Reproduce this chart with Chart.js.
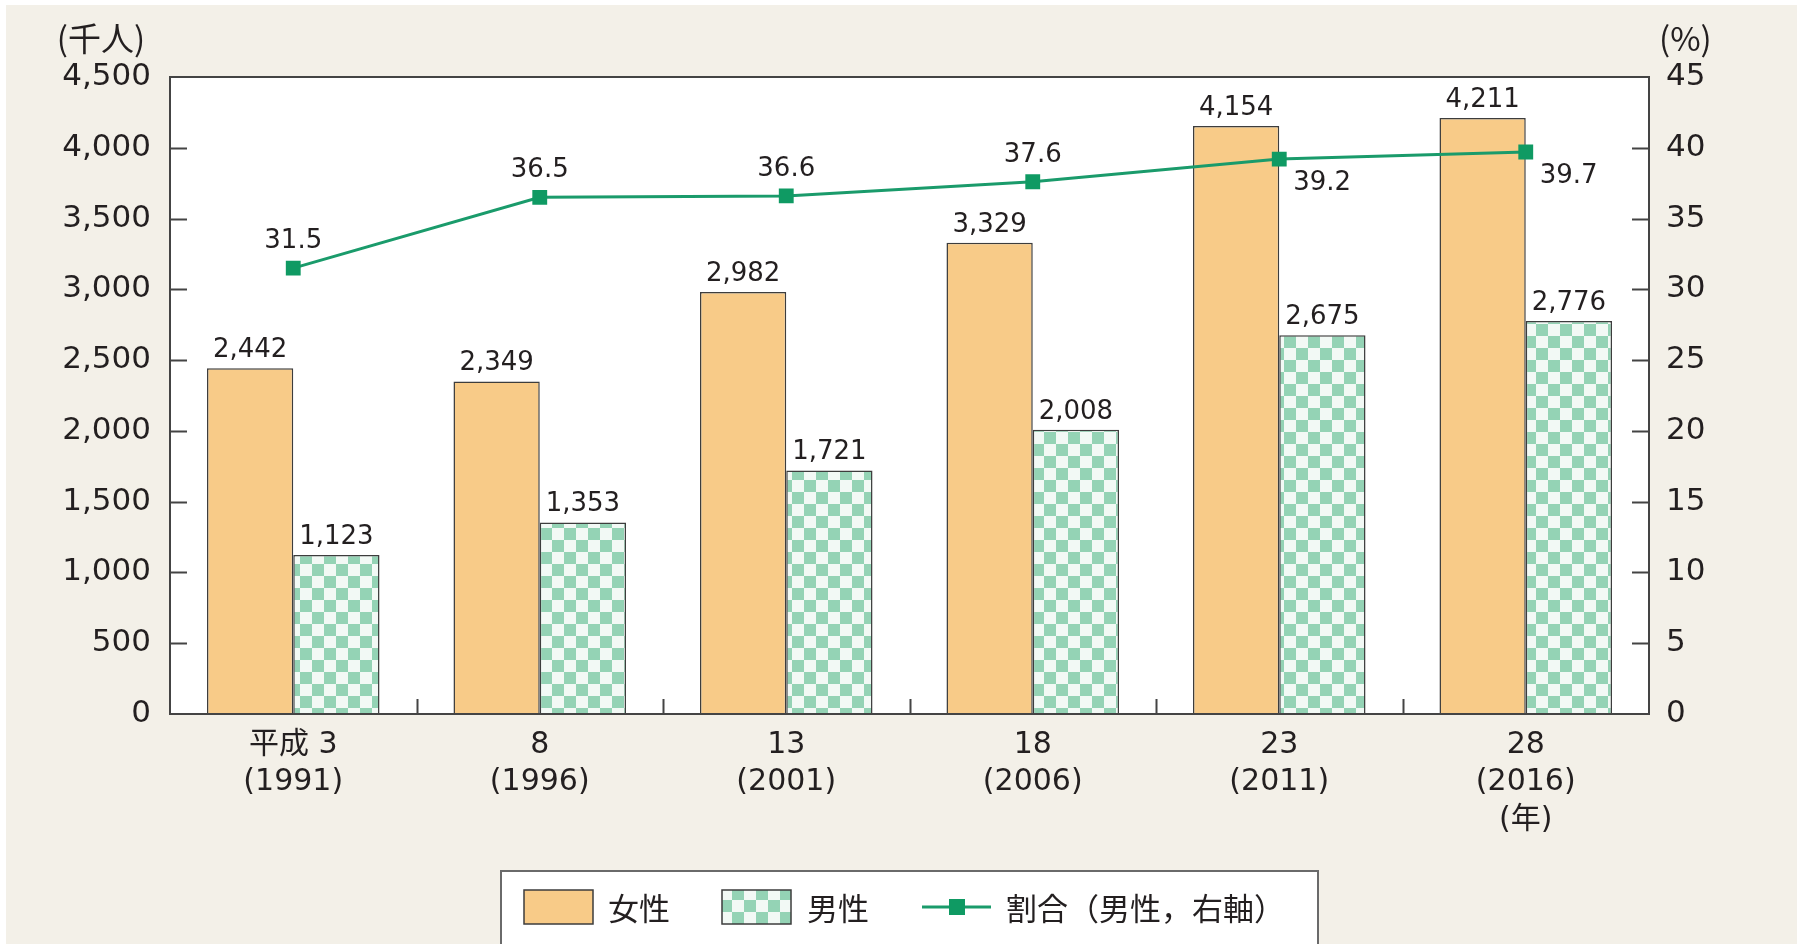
<!DOCTYPE html>
<html>
<head>
<meta charset="utf-8">
<script src="https://cdn.jsdelivr.net/npm/chart.js@4.4.1/dist/chart.umd.min.js"></script>
<style>
  html, body { margin: 0; padding: 0; background: #ffffff; }
  canvas { display: block; }
</style>
</head>
<body>
<canvas id="chart" width="1797" height="944"></canvas>
<script>
// Survey years (Heisei era with Western year below)
const categories = [
  ['平成 3', '(1991)'],
  ['8', '(1996)'],
  ['13', '(2001)'],
  ['18', '(2006)'],
  ['23', '(2011)'],
  ['28', '(2016)', '(年)']
];
// Thousands of people
const women = [2442, 2349, 2982, 3329, 4154, 4211];
const men = [1123, 1353, 1721, 2008, 2675, 2776];
// Share of men (%), right axis
const menShare = [31.5, 36.5, 36.6, 37.6, 39.2, 39.7];

const leftAxisMax = 4500;
const leftAxisStep = 500;
const rightAxisMax = 45;
const rightAxisStep = 5;

const seriesNames = ['女性', '男性', '割合（男性，右軸）'];
const leftAxisUnit = '(千人)';
const rightAxisUnit = '(%)';

const LATIN = '"DejaVu Sans", "Noto Sans CJK JP", sans-serif';
const CJK = '"Noto Sans CJK JP", "DejaVu Sans", sans-serif';
const INK = '#231f20';
const FRAME = '#444444';
const PAPER = '#f3f0e8';
const ORANGE = '#f8cb88';
const GREEN_LINE = '#1a9b6b';
const GREEN_MARK = '#0f9a63';

const canvas = document.getElementById('chart');
const mainCtx = canvas.getContext('2d');

function checkerPattern() {
  const tile = document.createElement('canvas');
  tile.width = 24; tile.height = 24;
  const g = tile.getContext('2d');
  g.fillStyle = '#94d3b5';
  g.fillRect(0, 0, 24, 24);
  g.fillStyle = '#f2f9f5';
  g.fillRect(0, 0, 12, 12);
  g.fillRect(12, 12, 12, 12);
  return mainCtx.createPattern(tile, 'repeat');
}
const checker = checkerPattern();

const fmt = v => v.toLocaleString('en-US');

// Paper background, white plot area, frame and inward tick marks
const framePlugin = {
  id: 'frame',
  beforeDraw(chart) {
    const { ctx, chartArea: a } = chart;
    ctx.save();
    ctx.fillStyle = '#ffffff';
    ctx.fillRect(0, 0, chart.width, chart.height);
    ctx.fillStyle = PAPER;
    ctx.fillRect(6, 5, chart.width - 6, chart.height - 5);
    ctx.fillStyle = '#ffffff';
    ctx.fillRect(a.left, a.top, a.right - a.left, a.bottom - a.top);
    ctx.restore();
  },
  afterDatasetsDraw(chart) {
    const { ctx, chartArea: a, scales } = chart;
    ctx.save();
    ctx.strokeStyle = FRAME;
    ctx.lineWidth = 2;
    ctx.strokeRect(a.left, a.top, a.right - a.left, a.bottom - a.top);
    ctx.beginPath();
    scales.y.ticks.forEach(t => {
      if (t.value <= 0 || t.value >= leftAxisMax) return;
      const y = Math.round(scales.y.getPixelForValue(t.value)) + 0.5;
      ctx.moveTo(a.left, y); ctx.lineTo(a.left + 17, y);
    });
    scales.y1.ticks.forEach(t => {
      if (t.value <= 0 || t.value >= rightAxisMax) return;
      const y = Math.round(scales.y1.getPixelForValue(t.value)) + 0.5;
      ctx.moveTo(a.right, y); ctx.lineTo(a.right - 17, y);
    });
    for (let i = 1; i < categories.length; i++) {
      const x = Math.round((scales.x.getPixelForValue(i - 1) + scales.x.getPixelForValue(i)) / 2) + 0.5;
      ctx.moveTo(x, a.bottom); ctx.lineTo(x, a.bottom - 15);
    }
    ctx.stroke();
    ctx.restore();
  },
  afterDraw(chart) {
    const { ctx, chartArea: a } = chart;
    ctx.save();
    ctx.fillStyle = INK;
    ctx.font = '33px ' + CJK;
    ctx.textBaseline = 'middle';
    ctx.textAlign = 'center';
    ctx.fillText(leftAxisUnit, 101, 38);
    ctx.textAlign = 'left';
    ctx.fillText(rightAxisUnit, a.right + 10, 38);
    ctx.restore();
  }
};

// Value labels over bars and beside line points
const labelPlugin = {
  id: 'valueLabels',
  afterDraw(chart) {
    const { ctx } = chart;
    ctx.save();
    ctx.fillStyle = INK;
    ctx.textBaseline = 'alphabetic';
    [0, 1].forEach(di => {
      const meta = chart.getDatasetMeta(di);
      ctx.font = '26px ' + LATIN;
      ctx.textAlign = 'center';
      meta.data.forEach((el, i) => {
        ctx.fillText(fmt(chart.data.datasets[di].data[i]), el.x, el.y - 11);
      });
    });
    const lm = chart.getDatasetMeta(2);
    ctx.font = '26px ' + LATIN;
    lm.data.forEach((el, i) => {
      const v = chart.data.datasets[2].data[i].toFixed(1);
      if (i < 4) {
        ctx.textAlign = 'center';
        ctx.fillText(v, el.x, el.y - 20);
      } else {
        ctx.textAlign = 'left';
        ctx.fillText(v, el.x + 14, el.y + 31);
      }
    });
    ctx.restore();
  }
};

// Boxed legend under the axis
const legendPlugin = {
  id: 'boxLegend',
  afterDraw(chart) {
    const { ctx } = chart;
    const ds = chart.data.datasets;
    ctx.save();
    ctx.fillStyle = '#ffffff';
    ctx.fillRect(501, 871, 817, 90);
    ctx.strokeStyle = '#6a6a6a';
    ctx.lineWidth = 2;
    ctx.strokeRect(501, 871, 817, 90);

    ctx.lineWidth = 1.5;
    ctx.strokeStyle = '#3d3d3d';
    ctx.fillStyle = ds[0].backgroundColor;
    ctx.fillRect(524, 890, 69, 34);
    ctx.strokeRect(524, 890, 69, 34);
    ctx.fillStyle = ds[1].backgroundColor;
    ctx.fillRect(722, 890, 69, 34);
    ctx.strokeRect(722, 890, 69, 34);

    ctx.strokeStyle = ds[2].borderColor;
    ctx.lineWidth = 3;
    ctx.beginPath();
    ctx.moveTo(922, 907); ctx.lineTo(991, 907);
    ctx.stroke();
    ctx.fillStyle = ds[2].pointBackgroundColor;
    ctx.fillRect(949, 899, 16, 16);

    ctx.fillStyle = INK;
    ctx.font = '31px ' + CJK;
    ctx.textBaseline = 'middle';
    ctx.textAlign = 'left';
    ctx.fillText(ds[0].label, 608, 908);
    ctx.fillText(ds[1].label, 807, 908);
    ctx.fillText(ds[2].label, 1006, 908);
    ctx.restore();
  }
};

new Chart(mainCtx, {
  data: {
    labels: categories,
    datasets: [
      {
        type: 'bar', label: seriesNames[0], data: women, yAxisID: 'y',
        backgroundColor: ORANGE, borderColor: '#3d3d3d', borderWidth: 1.5,
        categoryPercentage: 0.7, barPercentage: 1.0, order: 2
      },
      {
        type: 'bar', label: seriesNames[1], data: men, yAxisID: 'y',
        backgroundColor: checker, borderColor: '#3d3d3d', borderWidth: 1.5,
        categoryPercentage: 0.7, barPercentage: 1.0, order: 2
      },
      {
        type: 'line', label: seriesNames[2], data: menShare, yAxisID: 'y1',
        borderColor: GREEN_LINE, borderWidth: 3,
        pointStyle: 'rect', pointRadius: 10.5, pointHoverRadius: 10.5,
        pointBackgroundColor: GREEN_MARK, pointBorderColor: GREEN_MARK, pointBorderWidth: 0,
        tension: 0, order: 0
      }
    ]
  },
  options: {
    responsive: false,
    animation: false,
    devicePixelRatio: 1,
    layout: { padding: { top: 77, left: 0, right: 0, bottom: 0 } },
    plugins: { legend: { display: false }, tooltip: { enabled: false } },
    scales: {
      x: {
        grid: { display: false, drawTicks: false },
        border: { display: false },
        ticks: {
          color: INK, font: { family: LATIN, size: 30, lineHeight: 1.25 },
          padding: 12, maxRotation: 0, autoSkip: false
        },
        afterFit(s) { s.height = 230; }
      },
      y: {
        position: 'left', min: 0, max: leftAxisMax,
        grid: { display: false, drawTicks: false },
        border: { display: false },
        ticks: {
          stepSize: leftAxisStep, color: INK, padding: 19,
          font: { family: LATIN, size: 31 },
          callback: v => fmt(v)
        },
        afterFit(s) { s.width = 170; }
      },
      y1: {
        position: 'right', min: 0, max: rightAxisMax,
        grid: { display: false, drawTicks: false },
        border: { display: false },
        ticks: {
          stepSize: rightAxisStep, color: INK, padding: 17,
          font: { family: LATIN, size: 31 }
        },
        afterFit(s) { s.width = 148; }
      }
    }
  },
  plugins: [framePlugin, labelPlugin, legendPlugin]
});
</script>
</body>
</html>
